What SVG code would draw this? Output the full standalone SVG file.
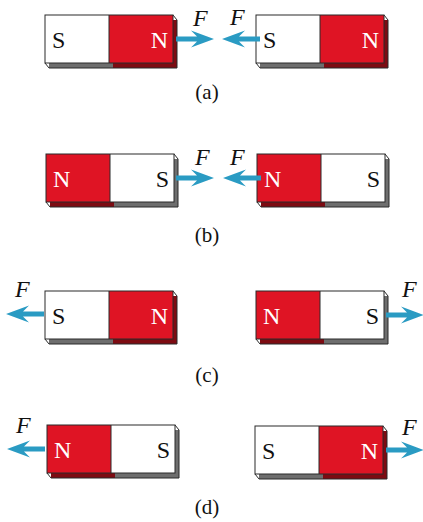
<svg xmlns="http://www.w3.org/2000/svg" xmlns:xlink="http://www.w3.org/1999/xlink" width="423" height="522" viewBox="0 0 423 522">
<style>
.red{fill:#df1424}
.white{fill:#ffffff}
.dred{fill:#7d0b12}
.gray{fill:#6e6e6e}
.edge{fill:none;stroke:#2a2a2a;stroke-width:1}
text{font-family:"Liberation Serif","DejaVu Serif",serif}
.pole{font-size:24px}
.pn{fill:#ffffff}
.ps{fill:#111111}
.f{font-size:24px;font-style:italic;fill:#111}
.cap{font-size:21px;fill:#111;text-anchor:middle}
.arrow{fill:#2a9bc3}
</style>
<defs>
<g id="magSN">
<rect x="4" y="5" width="64" height="48" class="gray"/>
<rect x="68" y="5" width="64" height="48" class="dred"/>
<path d="M0,48 L4,53 L132,53 L132,5 L128,0" class="edge"/>
<rect x="0" y="0" width="64" height="48" class="white"/>
<rect x="64" y="0" width="64" height="48" class="red"/>
<rect x="0" y="0" width="128" height="48" class="edge"/>
<line x1="64" y1="0" x2="64" y2="48" class="edge"/>
<text x="7" y="33" class="pole ps">S</text>
<text x="123" y="33" class="pole pn" text-anchor="end">N</text>
</g>
<g id="magNS">
<rect x="4" y="5" width="64" height="48" class="dred"/>
<rect x="68" y="5" width="64" height="48" class="gray"/>
<path d="M0,48 L4,53 L132,53 L132,5 L128,0" class="edge"/>
<rect x="0" y="0" width="64" height="48" class="red"/>
<rect x="64" y="0" width="64" height="48" class="white"/>
<rect x="0" y="0" width="128" height="48" class="edge"/>
<line x1="64" y1="0" x2="64" y2="48" class="edge"/>
<text x="7" y="33" class="pole pn">N</text>
<text x="123" y="33" class="pole ps" text-anchor="end">S</text>
</g>
<path id="arR" d="M0,0 L-23,-8.5 L-17,-2.5 L-38,-2.5 L-38,2.5 L-17,2.5 L-23,8.5 Z"/>
</defs>

<g id="magnet-a-left"><use xlink:href="#magSN" x="45" y="15"/></g>
<g id="magnet-a-right"><use xlink:href="#magSN" x="256" y="15"/></g>
<g id="magnet-b-left"><use xlink:href="#magNS" x="46" y="154"/></g>
<g id="magnet-b-right"><use xlink:href="#magNS" x="257" y="154"/></g>
<g id="magnet-c-left"><use xlink:href="#magSN" x="45" y="291"/></g>
<g id="magnet-c-right"><use xlink:href="#magNS" x="256" y="291"/></g>
<g id="magnet-d-left"><use xlink:href="#magNS" x="47" y="425"/></g>
<g id="magnet-d-right"><use xlink:href="#magSN" x="255" y="426"/></g>

<g id="connectors" class="arrow">
<use xlink:href="#arR" transform="translate(214,39)"/>
<use xlink:href="#arR" transform="translate(222,39) scale(-1,1)"/>
<use xlink:href="#arR" transform="translate(214,178)"/>
<use xlink:href="#arR" transform="translate(223,178) scale(-1,1)"/>
<use xlink:href="#arR" transform="translate(6,314) scale(-1,1)"/>
<use xlink:href="#arR" transform="translate(424,315)"/>
<use xlink:href="#arR" transform="translate(7,449) scale(-1,1)"/>
<use xlink:href="#arR" transform="translate(424,450)"/>
</g>

<g id="labels">
<text x="193" y="26" class="f">F</text>
<text x="230" y="25" class="f">F</text>
<text x="195" y="165" class="f">F</text>
<text x="230" y="165" class="f">F</text>
<text x="15" y="297" class="f">F</text>
<text x="402" y="297" class="f">F</text>
<text x="16" y="433" class="f">F</text>
<text x="402" y="435" class="f">F</text>
<text x="207" y="99" class="cap">(a)</text>
<text x="207" y="242" class="cap">(b)</text>
<text x="207" y="382" class="cap">(c)</text>
<text x="207" y="514" class="cap">(d)</text>
</g>
</svg>
